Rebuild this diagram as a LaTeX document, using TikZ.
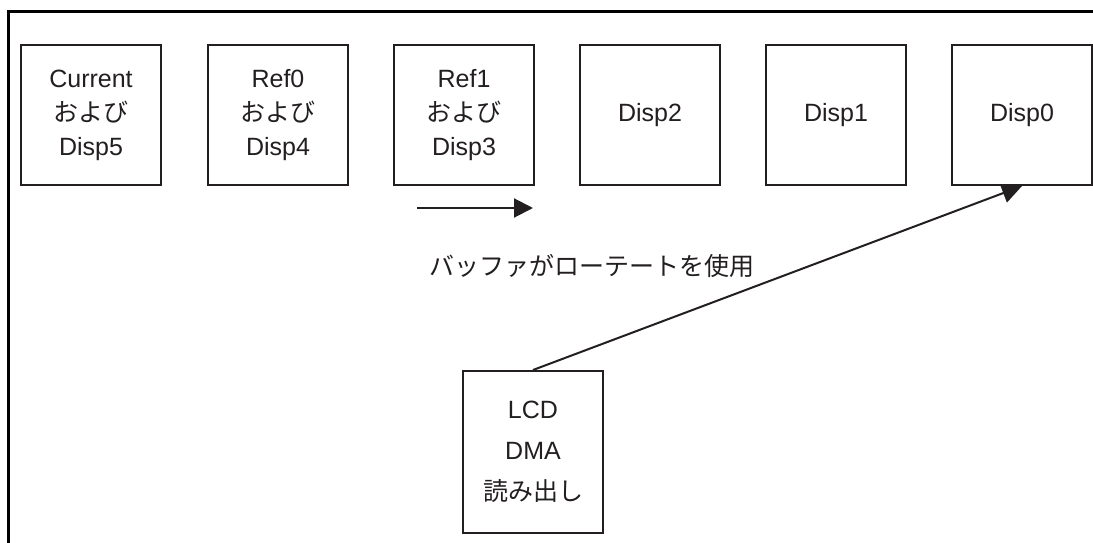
\documentclass[tikz,border=0pt]{standalone}
\usepackage{fontspec}
\setmainfont{Liberation Sans}
\newfontfamily\cjk{Noto Sans CJK JP}
\usetikzlibrary{arrows.meta}
\pgfdeclarelayer{background}
\pgfsetlayers{background,main}
\definecolor{ink}{HTML}{231F20}
\begin{document}
\begin{tikzpicture}[x=1pt,y=-1pt,
  buf/.style={draw=ink,line width=2pt,fill=white,minimum width=140pt,minimum height=140pt,inner sep=0pt,
    align=center,font=\fontsize{25pt}{34pt}\selectfont,text=ink},
  lcd/.style={draw=ink,line width=2pt,fill=white,minimum width=140pt,minimum height=162pt,inner sep=0pt,
    align=center,font=\fontsize{25pt}{41pt}\selectfont,text=ink},
  lbl/.style={font=\fontsize{25pt}{30pt}\selectfont\cjk,text=ink,inner sep=0pt},
  arr/.style={draw=ink,line width=2pt,-{Triangle[length=20pt,width=20pt]}}]
\useasboundingbox (0,0) rectangle (1093,543);
\draw[line width=3pt,black] (1093,12) -- (8,12) -- (8,543);
\node[buf] (b5) at (91,115) {Current\\{\cjk および}\\Disp5};
\node[buf] (b4) at (278,115) {Ref0\\{\cjk および}\\Disp4};
\node[buf] (b3) at (464,115) {Ref1\\{\cjk および}\\Disp3};
\node[buf] (b2) at (650,115) {Disp2};
\node[buf] (b1) at (836,115) {Disp1};
\node[buf] (b0) at (1022,115) {Disp0};
\node[lcd] (dma) at (533,452) {LCD\\DMA\\{\cjk 読み出し}};
\node[lbl] (rot) at (592,266) {バッファがローテートを使用};
\coordinate (rs) at (417,208);
\coordinate (re) at (533,208);
\draw[arr,-{Triangle[length=19pt,width=19pt]}] (rs) -- (re);
\begin{pgfonlayer}{background}
\draw[arr] (dma.north) -- (b0.south);
\end{pgfonlayer}
\end{tikzpicture}
\end{document}
